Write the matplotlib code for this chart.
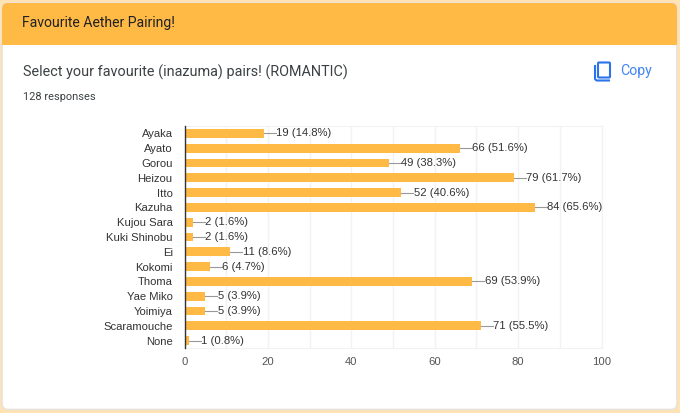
import matplotlib
matplotlib.use('Agg')
import matplotlib.pyplot as plt
from matplotlib.patches import FancyBboxPatch, Rectangle

names = ['Ayaka', 'Ayato', 'Gorou', 'Heizou', 'Itto', 'Kazuha', 'Kujou Sara',
         'Kuki Shinobu', 'Ei', 'Kokomi', 'Thoma', 'Yae Miko', 'Yoimiya',
         'Scaramouche', 'None']
votes = [19, 66, 49, 79, 52, 84, 2, 2, 11, 6, 69, 5, 5, 71, 1]
percents = ['14.8', '51.6', '38.3', '61.7', '40.6', '65.6', '1.6', '1.6', '8.6',
            '4.7', '53.9', '3.9', '3.9', '55.5', '0.8']
major_ticks = [0, 20, 40, 60, 80, 100]
minor_ticks = [10, 30, 50, 70, 90]

W, H = 680, 413
ORANGE = '#ffb945'
ARIAL = ['Liberation Sans', 'DejaVu Sans']

plt.rcParams['font.family'] = ['Roboto', 'DejaVu Sans']

fig = plt.figure(figsize=(W / 100, H / 100), dpi=100, facecolor='#ffe3b5')

# page background, card and header in pixel coordinates
bg = fig.add_axes([0, 0, 1, 1])
bg.set_xlim(0, W)
bg.set_ylim(H, 0)
bg.axis('off')
bg.add_patch(FancyBboxPatch((2, 3), 675, 406.5, boxstyle='round,pad=0,rounding_size=6',
                            fc='white', ec='#e9e2d8', lw=1.2))
bg.add_patch(FancyBboxPatch((2, 3), 675, 30, boxstyle='round,pad=0,rounding_size=6',
                            fc=ORANGE, ec='none'))
bg.add_patch(Rectangle((2, 20), 675, 24.5, fc=ORANGE, ec='none'))

bg.text(22.5, 23.5, 'Favourite Aether Pairing!', fontsize=10.05, color='#202124', va='center')
bg.text(23, 72, 'Select your favourite (inazuma) pairs! (ROMANTIC)', fontsize=10.4,
        color='#3c4043', va='center')
bg.text(23, 97, '128 responses', fontsize=7.95, color='#3c4043', va='center')
bg.text(620, 71.5, 'Copy', fontsize=10.2, color='#4285f4', va='center')

# copy icon
blue = '#2a73e8'
bg.add_patch(FancyBboxPatch((598, 62.5), 12, 15, boxstyle='round,pad=0,rounding_size=1',
                            fc='none', ec=blue, lw=1.5))
bg.plot([595, 595, 596.5, 609], [66, 79, 80.5, 80.5], color=blue, lw=1.5)

# chart
ax = fig.add_axes([184.5 / W, 1 - 348 / H, 417 / W, 222 / H])
y = list(range(len(names)))
ax.barh(y, votes, height=0.6, color=ORANGE, zorder=3)
ax.set_xlim(0, 100)
ax.set_ylim(len(names) - 0.5, -0.5)
ax.set_yticks(y, names, family=ARIAL)
ax.set_xticks(major_ticks, [str(t) for t in major_ticks], family=ARIAL)
ax.set_xticks(minor_ticks, minor=True)
ax.grid(axis='x', which='both', color='#f2f2f2', lw=1, zorder=0)
ax.tick_params(axis='both', which='both', length=0)
ax.tick_params(axis='y', labelsize=8.1, labelcolor='#333333', pad=8.5)
ax.tick_params(axis='x', labelsize=8.1, labelcolor='#555555', pad=6.5)
for side in ['top', 'right', 'bottom']:
    ax.spines[side].set_color('#f2f2f2')
ax.spines['left'].set_color('#333333')
ax.spines['left'].set_linewidth(1)
ax.spines['left'].set_zorder(5)

for i, (v, p) in enumerate(zip(votes, percents)):
    ax.plot([v, v + 2.9], [i, i], color='#999999', lw=0.8, zorder=3)
    ax.text(v + 3, i, f'{v} ({p}%)', fontsize=8.1, family=ARIAL, color='#333333',
            va='center', zorder=4)

fig.savefig('out.png', dpi=100, facecolor=fig.get_facecolor())
